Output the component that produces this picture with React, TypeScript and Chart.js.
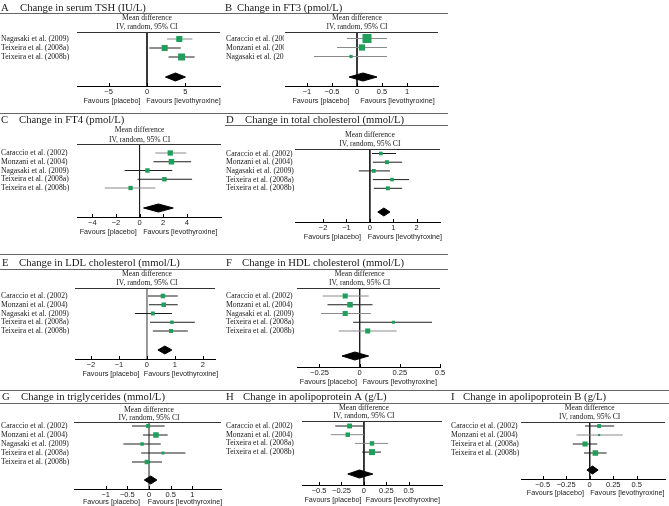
import React, { useEffect, useRef } from "react";
import { Chart, registerables } from "chart.js";
Chart.register(...registerables);

// ---------------- DATA ----------------
const STUDIES_A = ["Nagasaki et al. (2009)", "Teixeira et al. (2008a)", "Teixeira et al. (2008b)"];
const STUDIES_B = ["Caraccio et al. (2002)", "Monzani et al. (2004)", "Nagasaki et al. (2009)"];
const STUDIES_5 = ["Caraccio et al. (2002)", "Monzani et al. (2004)", "Nagasaki et al. (2009)", "Teixeira et al. (2008a)", "Teixeira et al. (2008b)"];
const STUDIES_4 = ["Caraccio et al. (2002)", "Monzani et al. (2004)", "Teixeira et al. (2008a)", "Teixeira et al. (2008b)"];

// A: serum TSH (IU/L)
const A_MEAN = [4.2, 2.3, 4.5];
const A_LOW = [2.6, 0.3, 2.8];
const A_HIGH = [5.9, 4.4, 6.2];
const A_WEIGHT = [30, 30, 40];
const A_POOLED = [2.4, 3.7, 5.0];
const A_TICKS = [-5, 0, 5];
const A_RANGE = [-9.1, 9.5];

// B: FT3 (pmol/L)
const B_MEAN = [0.2, 0.1, -0.12];
const B_LOW = [-0.2, -0.4, -0.86];
const B_HIGH = [0.6, 0.6, 0.6];
const B_WEIGHT = [62, 30, 8];
const B_POOLED = [-0.16, 0.12, 0.4];
const B_TICKS = [-1, -0.5, 0, 0.5, 1];
const B_RANGE = [-1.44, 1.62];

// C: FT4 (pmol/L)
const C_MEAN = [2.6, 2.7, 0.67, 2.1, -0.76];
const C_LOW = [1.34, 1.18, -1.26, -0.17, -2.94];
const C_HIGH = [3.95, 4.37, 2.77, 4.45, 1.34];
const C_WEIGHT = [24, 26, 17, 17, 16];
const C_POOLED = [0.34, 1.6, 2.86];
const C_TICKS = [-4, -2, 0, 2, 4];
const C_RANGE = [-5.3, 6.9];

// D: total cholesterol (mmol/L)
const D_MEAN = [0.47, 0.73, 0.17, 0.95, 0.77];
const D_LOW = [0.09, 0.13, -0.47, 0.13, 0.17];
const D_HIGH = [1.12, 1.38, 0.86, 1.68, 1.38];
const D_WEIGHT = [18, 22, 20, 18, 22];
const D_POOLED = [0.34, 0.6, 0.86];
const D_TICKS = [-2, -1, 0, 1, 2];
const D_RANGE = [-3.2, 3.0];

// E: LDL cholesterol (mmol/L)
const E_MEAN = [0.57, 0.6, 0.21, 0.89, 0.86];
const E_LOW = [0.04, 0.07, -0.43, 0.11, 0.21];
const E_HIGH = [1.1, 1.1, 0.89, 1.71, 1.46];
const E_WEIGHT = [24, 24, 19, 14, 19];
const E_POOLED = [0.39, 0.64, 0.89];
const E_TICKS = [-2, -1, 0, 1, 2];
const E_RANGE = [-2.57, 2.43];

// F: HDL cholesterol (mmol/L)
const F_MEAN = [-0.09, -0.06, -0.09, 0.21, 0.05];
const F_LOW = [-0.23, -0.2, -0.24, -0.04, -0.13];
const F_HIGH = [0.056, 0.08, 0.07, 0.45, 0.23];
const F_WEIGHT = [22, 26, 22, 8, 22];
const F_POOLED = [-0.11, -0.03, 0.056];
const F_TICKS = [-0.25, 0, 0.25, 0.5];
const F_RANGE = [-0.39, 0.5];

// G: triglycerides (mmol/L)
const G_MEAN = [-0.02, 0.16, -0.16, 0.32, -0.05];
const G_LOW = [-0.39, -0.14, -0.59, -0.18, -0.39];
const G_HIGH = [0.36, 0.43, 0.27, 0.84, 0.3];
const G_WEIGHT = [18, 34, 14, 10, 22];
const G_POOLED = [-0.11, 0.04, 0.18];
const G_TICKS = [-1, -0.5, 0, 0.5, 1];
const G_RANGE = [-1.73, 1.66];

// H: apolipoprotein A (g/L)
const H_MEAN = [-0.16, -0.18, 0.09, 0.09];
const H_LOW = [-0.32, -0.37, -0.1, -0.02];
const H_HIGH = [-0.01, 0.0, 0.27, 0.19];
const H_WEIGHT = [24, 20, 20, 36];
const H_POOLED = [-0.18, -0.05, 0.1];
const H_TICKS = [-0.5, -0.25, 0, 0.25, 0.5];
const H_RANGE = [-0.69, 0.87];

// I: apolipoprotein B (g/L)
const I_MEAN = [0.1, 0.1, -0.05, 0.06];
const I_LOW = [-0.05, -0.14, -0.18, -0.06];
const I_HIGH = [0.26, 0.35, 0.08, 0.18];
const I_WEIGHT = [20, 6, 34, 40];
const I_POOLED = [-0.03, 0.03, 0.09];
const I_TICKS = [-0.5, -0.25, 0, 0.25, 0.5];
const I_RANGE = [-0.73, 0.8];

// ---------------- STYLE / LAYOUT ----------------
const GREEN = "#1f9f5b";
const DK = "#1e1e1e";
const GR = "#8a8a8a";
const SERIF = "'Liberation Serif', 'Times New Roman', serif";
const SANS = "'Liberation Sans', Arial, sans-serif";

type Spec = {
  letter: string; title: string; studies: string[];
  mean: number[]; low: number[]; high: number[]; weight: number[]; pooled: number[]; ticks: number[]; range: number[];
  left: number; right: number; top: number; bottom: number;
  plotL: number; plotR: number; headerY: number; axisY: number; row1Y: number; rowGap: number; diamondY: number;
  titleY: number; letterX: number; textX: number; mdY: number; ivY: number; favY: number;
  maxSide: number; ci: string[]; zeroColor: string; zeroWidth: number;
};

const PANELS: Spec[] = [
  { letter: "A", title: "Change in serum TSH (IU/L)", studies: STUDIES_A, mean: A_MEAN, low: A_LOW, high: A_HIGH, weight: A_WEIGHT, pooled: A_POOLED, ticks: A_TICKS, range: A_RANGE,
    left: 0, right: 225, top: 0, bottom: 108, plotL: 77, plotR: 222, headerY: 32, axisY: 86, row1Y: 39, rowGap: 9, diamondY: 77,
    titleY: 11, letterX: 1, textX: 20, mdY: 18, ivY: 27, favY: 101, maxSide: 7, ci: [GR, DK, DK], zeroColor: DK, zeroWidth: 1 },
  { letter: "B", title: "Change in FT3 (pmol/L)", studies: STUDIES_B, mean: B_MEAN, low: B_LOW, high: B_HIGH, weight: B_WEIGHT, pooled: B_POOLED, ticks: B_TICKS, range: B_RANGE,
    left: 225, right: 450, top: 0, bottom: 108, plotL: 285, plotR: 438, headerY: 32, axisY: 86, row1Y: 38.5, rowGap: 9, diamondY: 77,
    titleY: 11, letterX: 0, textX: 12, mdY: 18, ivY: 27, favY: 101, maxSide: 9, ci: [GR, GR, GR], zeroColor: DK, zeroWidth: 1 },
  { letter: "C", title: "Change in FT4 (pmol/L)", studies: STUDIES_5, mean: C_MEAN, low: C_LOW, high: C_HIGH, weight: C_WEIGHT, pooled: C_POOLED, ticks: C_TICKS, range: C_RANGE,
    left: 0, right: 225, top: 113, bottom: 240, plotL: 77, plotR: 222, headerY: 144, axisY: 217, row1Y: 153, rowGap: 8.75, diamondY: 208,
    titleY: 123, letterX: 1, textX: 19, mdY: 130, ivY: 140, favY: 232, maxSide: 5.5, ci: [GR, DK, DK, DK, GR], zeroColor: DK, zeroWidth: 1 },
  { letter: "D", title: "Change in total cholesterol (mmol/L)", studies: STUDIES_5, mean: D_MEAN, low: D_LOW, high: D_HIGH, weight: D_WEIGHT, pooled: D_POOLED, ticks: D_TICKS, range: D_RANGE,
    left: 225, right: 450, top: 113, bottom: 245, plotL: 295, plotR: 440, headerY: 149, axisY: 222, row1Y: 153.5, rowGap: 8.7, diamondY: 212,
    titleY: 123, letterX: 1, textX: 20, mdY: 135, ivY: 144, favY: 237, maxSide: 4, ci: [DK, DK, DK, DK, DK], zeroColor: DK, zeroWidth: 1 },
  { letter: "E", title: "Change in LDL cholesterol (mmol/L)", studies: STUDIES_5, mean: E_MEAN, low: E_LOW, high: E_HIGH, weight: E_WEIGHT, pooled: E_POOLED, ticks: E_TICKS, range: E_RANGE,
    left: 0, right: 225, top: 254, bottom: 382, plotL: 75, plotR: 215, headerY: 288, axisY: 359, row1Y: 296, rowGap: 8.75, diamondY: 350,
    titleY: 266, letterX: 2, textX: 19, mdY: 274, ivY: 283, favY: 374, maxSide: 4.5, ci: [DK, DK, DK, DK, DK], zeroColor: GR, zeroWidth: 1 },
  { letter: "F", title: "Change in HDL cholesterol (mmol/L)", studies: STUDIES_5, mean: F_MEAN, low: F_LOW, high: F_HIGH, weight: F_WEIGHT, pooled: F_POOLED, ticks: F_TICKS, range: F_RANGE,
    left: 225, right: 450, top: 254, bottom: 390, plotL: 297, plotR: 440, headerY: 288, axisY: 367, row1Y: 296, rowGap: 8.75, diamondY: 356,
    titleY: 266, letterX: 1, textX: 17, mdY: 274, ivY: 283, favY: 382, maxSide: 5.5, ci: [GR, DK, GR, DK, GR], zeroColor: DK, zeroWidth: 1 },
  { letter: "G", title: "Change in triglycerides (mmol/L)", studies: STUDIES_5, mean: G_MEAN, low: G_LOW, high: G_HIGH, weight: G_WEIGHT, pooled: G_POOLED, ticks: G_TICKS, range: G_RANGE,
    left: 0, right: 225, top: 390, bottom: 506, plotL: 74, plotR: 223, headerY: 422, axisY: 489, row1Y: 426, rowGap: 9, diamondY: 480,
    titleY: 400, letterX: 2, textX: 21, mdY: 410, ivY: 418, favY: 502, maxSide: 5.5, ci: [DK, DK, DK, DK, DK], zeroColor: GR, zeroWidth: 2 },
  { letter: "H", title: "Change in apolipoprotein A (g/L)", studies: STUDIES_4, mean: H_MEAN, low: H_LOW, high: H_HIGH, weight: H_WEIGHT, pooled: H_POOLED, ticks: H_TICKS, range: H_RANGE,
    left: 225, right: 450, top: 390, bottom: 506, plotL: 302, plotR: 442, headerY: 421, axisY: 485, row1Y: 426, rowGap: 8.7, diamondY: 474,
    titleY: 400, letterX: 1, textX: 18, mdY: 408, ivY: 416, favY: 500, maxSide: 6, ci: [DK, GR, GR, DK], zeroColor: DK, zeroWidth: 1 },
  { letter: "I", title: "Change in apolipoprotein B (g/L)", studies: STUDIES_4, mean: I_MEAN, low: I_LOW, high: I_HIGH, weight: I_WEIGHT, pooled: I_POOLED, ticks: I_TICKS, range: I_RANGE,
    left: 450, right: 669, top: 390, bottom: 506, plotL: 521, plotR: 665, headerY: 422, axisY: 479, row1Y: 426, rowGap: 9, diamondY: 470,
    titleY: 400, letterX: 1, textX: 13, mdY: 408, ivY: 417, favY: 493, maxSide: 5.5, ci: [DK, GR, DK, DK], zeroColor: DK, zeroWidth: 1 },
];

const SEPARATORS = [
  [0, 448, 13], [0, 448, 113], [225, 448, 125], [0, 448, 254], [0, 448, 269], [0, 669, 390], [0, 669, 403],
];

function fmt(v: number) {
  const s = String(Math.round(Math.abs(v) * 1000) / 1000);
  return v < 0 ? "\u2212" + s : s;
}

function buildConfig(p: Spec): any {
  const yMin = 1 - (p.row1Y - p.headerY) / p.rowGap;
  const yMax = 1 + (p.axisY - p.row1Y) / p.rowGap;
  const dY = 1 + (p.diamondY - p.row1Y) / p.rowGap;
  const dH = 4 / p.rowGap;
  const maxW = Math.max(...p.weight);
  const radii = p.weight.map((w) => (p.maxSide * Math.sqrt(w / maxW)) / Math.SQRT2);
  const datasets: any[] = [];
  datasets.push({
    data: p.mean.map((m, i) => ({ x: m, y: i + 1 })),
    pointStyle: "rect", pointRadius: radii, pointBorderWidth: 0,
    pointBackgroundColor: GREEN, backgroundColor: GREEN, borderColor: GREEN,
    showLine: false, order: 0,
  });
  p.mean.forEach((_, i) => {
    datasets.push({
      data: [{ x: p.low[i], y: i + 1 }, { x: p.high[i], y: i + 1 }],
      showLine: true, borderColor: p.ci[i], borderWidth: 1, pointRadius: 0, order: 2,
    });
  });
  datasets.push({
    data: [{ x: 0, y: yMin }, { x: 0, y: yMax }],
    showLine: true, borderColor: p.zeroColor, borderWidth: p.zeroWidth, pointRadius: 0, order: 3,
  });
  const [lo, mid, hi] = p.pooled;
  datasets.push({
    data: [{ x: lo, y: dY }, { x: mid, y: dY - dH }, { x: hi, y: dY }, { x: mid, y: dY + dH }, { x: lo, y: dY }],
    showLine: true, fill: "shape", backgroundColor: "#000", borderColor: "#000", borderWidth: 1, pointRadius: 0, order: 1,
  });

  const H = p.bottom - p.top;
  const forest = {
    id: "forest",
    afterDraw(chart: any) {
      const ctx = chart.ctx as CanvasRenderingContext2D;
      const ca = chart.chartArea;
      const xs = chart.scales.x;
      const ys = chart.scales.y;
      const z = xs.getPixelForValue(0);
      ctx.save();
      // header line
      ctx.strokeStyle = "#333";
      ctx.lineWidth = 1;
      ctx.beginPath();
      ctx.moveTo(ca.left, Math.round(ca.top) + 0.5);
      ctx.lineTo(ca.right, Math.round(ca.top) + 0.5);
      ctx.stroke();
      // upward tick marks
      ctx.strokeStyle = "#000";
      xs.ticks.forEach((t: any) => {
        const px = Math.round(xs.getPixelForValue(t.value)) + 0.5;
        ctx.beginPath();
        ctx.moveTo(px, ca.bottom - 3);
        ctx.lineTo(px, ca.bottom);
        ctx.stroke();
      });
      // title
      ctx.fillStyle = "#1a1a1a";
      ctx.textBaseline = "alphabetic";
      ctx.textAlign = "left";
      ctx.font = `10.7px ${SERIF}`;
      ctx.fillText(p.letter, p.letterX, p.titleY - p.top);
      ctx.fillText(p.title, p.textX, p.titleY - p.top);
      // header text
      ctx.font = `7.6px ${SERIF}`;
      ctx.textBaseline = "middle";
      ctx.textAlign = "center";
      ctx.fillText("Mean difference", z, p.mdY - p.top);
      ctx.fillText("IV, random, 95% CI", z, p.ivY - p.top);
      // study labels (clipped at plot left)
      ctx.save();
      ctx.beginPath();
      ctx.rect(0, 0, ca.left - 1, H);
      ctx.clip();
      ctx.textAlign = "left";
      ctx.font = `7.7px ${SERIF}`;
      p.studies.forEach((s, i) => {
        ctx.fillText(s, 1, ys.getPixelForValue(i + 1));
      });
      ctx.restore();
      // favours
      ctx.font = `7.2px ${SANS}`;
      ctx.textAlign = "center";
      ctx.textBaseline = "middle";
      ctx.fillStyle = "#222";
      ctx.fillText("Favours [placebo]", (ca.left + z) / 2, p.favY - p.top);
      ctx.fillText("Favours [levothyroxine]", (z + ca.right) / 2, p.favY - p.top);
      ctx.restore();
    },
  };

  return {
    type: "scatter",
    data: { datasets },
    options: {
      animation: false,
      responsive: false,
      devicePixelRatio: 1,
      events: [],
      layout: { padding: { left: p.plotL - p.left, right: p.right - p.plotR, top: p.headerY - p.top, bottom: 0 } },
      plugins: { legend: { display: false }, tooltip: { enabled: false } },
      scales: {
        x: {
          type: "linear",
          min: p.range[0],
          max: p.range[1],
          afterBuildTicks: (s: any) => { s.ticks = p.ticks.map((v) => ({ value: v })); },
          afterFit: (s: any) => { s.height = p.bottom - p.axisY; },
          grid: { display: true, drawOnChartArea: false, drawTicks: false },
          border: { display: true, color: "#000", width: 1 },
          ticks: {
            autoSkip: false, maxRotation: 0, padding: 1, color: "#222",
            font: { family: SANS, size: 7.5 },
            callback: (v: any) => fmt(Number(v)),
          },
        },
        y: { type: "linear", display: false, reverse: true, min: yMin, max: yMax },
      },
    },
    plugins: [forest],
  };
}

function Panel({ p }: { p: Spec }) {
  const ref = useRef<HTMLCanvasElement>(null);
  useEffect(() => {
    const chart = new Chart(ref.current as HTMLCanvasElement, buildConfig(p));
    return () => chart.destroy();
  }, [p]);
  const w = p.right - p.left;
  const h = p.bottom - p.top;
  return (
    <canvas ref={ref} width={w} height={h}
      style={{ position: "absolute", left: p.left, top: p.top, width: w, height: h }} />
  );
}

export default function App() {
  return (
    <div style={{ position: "fixed", left: 0, top: 0, width: 669, height: 506, background: "#fff", overflow: "hidden" }}>
      {SEPARATORS.map(([x1, x2, y], i) => (
        <div key={i} style={{ position: "absolute", left: x1, top: y, width: x2 - x1, height: 1, background: "#666" }} />
      ))}
      {PANELS.map((p) => <Panel key={p.letter} p={p} />)}
    </div>
  );
}
